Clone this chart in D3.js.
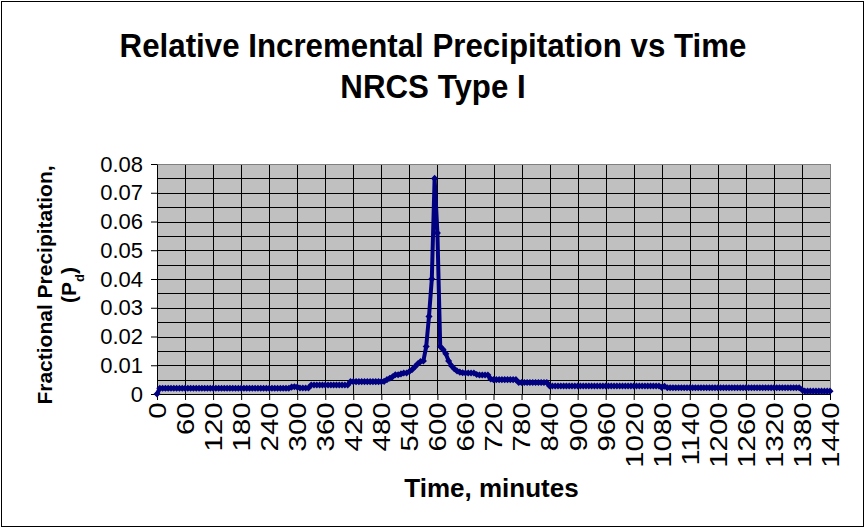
<!DOCTYPE html>
<html>
<head>
<meta charset="utf-8">
<script src="https://cdn.jsdelivr.net/npm/d3@7"></script>
<style>
  body { margin: 0; background: #fff; }
  text { font-family: "Liberation Sans", Arial, sans-serif; }
</style>
</head>
<body>
<div id="vis"></div>
<script>
// chart values (6 minute steps, 0..1440)
let timeStep = 6;
let precip = [
  0,
  // 6 .. 282
  0.002, 0.002, 0.002, 0.002, 0.002, 0.002, 0.002, 0.002, 0.002, 0.002,
  0.002, 0.002, 0.002, 0.002, 0.002, 0.002, 0.002, 0.002, 0.002, 0.002,
  0.002, 0.002, 0.002, 0.002, 0.002, 0.002, 0.002, 0.002, 0.002, 0.002,
  0.002, 0.002, 0.002, 0.002, 0.002, 0.002, 0.002, 0.002, 0.002, 0.002,
  0.002, 0.002, 0.002, 0.002, 0.002, 0.002, 0.002,
  // 288 .. 324
  0.0024, 0.0025, 0.0024, 0.0021, 0.0021, 0.0021, 0.0021,
  // 330 .. 408
  0.0031, 0.0031, 0.0031, 0.0031, 0.0031, 0.0031, 0.0031, 0.0031, 0.0031, 0.0031,
  0.0031, 0.0031, 0.0031, 0.0031,
  // 414 .. 486
  0.0043, 0.0043, 0.0043, 0.0043, 0.0043, 0.0043, 0.0043, 0.0043, 0.0043, 0.0043,
  0.0043, 0.0043, 0.0044,
  // 492 .. 570
  0.005, 0.0055, 0.006, 0.0067, 0.0067, 0.007, 0.0073, 0.0073, 0.0078, 0.0085,
  0.0095, 0.0105, 0.0113, 0.0115,
  // 576 .. 606 (peak)
  0.0165, 0.027, 0.040, 0.075, 0.056, 0.0165,
  // 612 .. 708
  0.0155, 0.014, 0.0115, 0.0098, 0.0088, 0.008, 0.0076, 0.0074, 0.0073, 0.0073,
  0.0073, 0.0073, 0.0068, 0.0066, 0.0066, 0.0066, 0.0066,
  // 714 .. 768
  0.0052, 0.005, 0.005, 0.005, 0.005, 0.005, 0.005, 0.005, 0.005, 0.005,
  // 774 .. 834
  0.004, 0.004, 0.004, 0.004, 0.004, 0.004, 0.004, 0.004, 0.004, 0.004, 0.004,
  // 840 .. 1074
  0.0028, 0.0028, 0.0028, 0.0028, 0.0028, 0.0028, 0.0028, 0.0028, 0.0028, 0.0028,
  0.0028, 0.0028, 0.0028, 0.0028, 0.0028, 0.0028, 0.0028, 0.0028, 0.0028, 0.0028,
  0.0028, 0.0028, 0.0028, 0.0028, 0.0028, 0.0028, 0.0028, 0.0028, 0.0028, 0.0028,
  0.0028, 0.0028, 0.0028, 0.0028, 0.0028, 0.0028, 0.0028, 0.0028, 0.0028, 0.0028,
  // 1080 .. 1086
  0.0023, 0.0027,
  // 1092 .. 1374
  0.0022, 0.0022, 0.0022, 0.0022, 0.0022, 0.0022, 0.0022, 0.0022, 0.0022, 0.0022,
  0.0022, 0.0022, 0.0022, 0.0022, 0.0022, 0.0022, 0.0022, 0.0022, 0.0022, 0.0022,
  0.0022, 0.0022, 0.0022, 0.0022, 0.0022, 0.0022, 0.0022, 0.0022, 0.0022, 0.0022,
  0.0022, 0.0022, 0.0022, 0.0022, 0.0022, 0.0022, 0.0022, 0.0022, 0.0022, 0.0022,
  0.0022, 0.0022, 0.0022, 0.0022, 0.0022, 0.0022, 0.0022, 0.0022,
  // 1380 .. 1440
  0.0015, 0.001, 0.001, 0.001, 0.001, 0.001, 0.001, 0.001, 0.001, 0.001, 0.001
];

let xTicks = [0, 60, 120, 180, 240, 300, 360, 420, 480, 540, 600, 660, 720,
  780, 840, 900, 960, 1020, 1080, 1140, 1200, 1260, 1320, 1380, 1440];
let yTicks = [0, 0.01, 0.02, 0.03, 0.04, 0.05, 0.06, 0.07, 0.08];
let yGrid = [0.005, 0.015, 0.025, 0.035, 0.045, 0.055, 0.065, 0.075];

let titleLines = ['Relative Incremental Precipitation vs Time', 'NRCS Type I'];
let yTitle = ['Fractional Precipitation,', '(P', 'd', ')'];
let xTitle = 'Time, minutes';

let data = precip.map(function (v, i) { return [i * timeStep, v]; });

let W = 866, H = 529;
let margin = { top: 164, left: 157, right: 36, bottom: 135 },
  width = W - margin.left - margin.right,
  height = H - margin.top - margin.bottom;

let svg = d3.select('#vis')
  .append('svg')
  .attr('width', W)
  .attr('height', H);

// chart area border
svg.append('rect')
  .attr('x', 1.5).attr('y', 1.5)
  .attr('width', W - 4).attr('height', H - 4)
  .attr('fill', '#fff')
  .attr('stroke', '#000')
  .attr('stroke-width', 1);

// title (slightly condensed like the original)
svg.selectAll('.title')
  .data(titleLines)
  .enter()
  .append('text')
  .attr('class', 'title')
  .attr('transform', function (d, i) {
    return 'translate(433,' + (57 + i * 41) + ') scale(0.92,1)';
  })
  .attr('text-anchor', 'middle')
  .style('font-weight', 'bold')
  .style('font-size', '34px')
  .text(function (d) { return d; });

let xScale = d3.scaleLinear().domain([0, 1440]).range([0, width]),
  yScale = d3.scaleLinear().domain([0, 0.08]).range([height, 0]);

let g = svg.append('g')
  .attr('transform', 'translate(' + margin.left + ',' + margin.top + ')');

// plot background
g.append('rect')
  .attr('width', width)
  .attr('height', height)
  .attr('fill', '#c0c0c0');

// grid
g.append('g')
  .selectAll('line')
  .data(yTicks.concat(yGrid))
  .enter()
  .append('line')
  .attr('x1', 0).attr('x2', width)
  .attr('y1', function (d) { return Math.round(yScale(d)) + 0.5; })
  .attr('y2', function (d) { return Math.round(yScale(d)) + 0.5; })
  .attr('stroke', '#000');

g.append('g')
  .selectAll('line')
  .data(xTicks.slice(1))
  .enter()
  .append('line')
  .attr('y1', 0).attr('y2', height)
  .attr('x1', function (d) { return Math.round(xScale(d)) + 0.5; })
  .attr('x2', function (d) { return Math.round(xScale(d)) + 0.5; })
  .attr('stroke', '#000');

// plot border
g.append('rect')
  .attr('x', 0.5).attr('y', 0.5)
  .attr('width', width).attr('height', height)
  .attr('fill', 'none')
  .attr('stroke', '#808080');

// axes
let xAxis = g.append('g')
  .attr('transform', 'translate(0,' + height + ')')
  .call(d3.axisBottom(xScale).tickValues(xTicks).tickSize(6).tickSizeOuter(0)
    .tickFormat(d3.format('d')));
xAxis.selectAll('text')
  .attr('transform', 'rotate(-90) scale(1.22,1)')
  .attr('text-anchor', 'end')
  .attr('x', -7)
  .attr('y', 0)
  .attr('dy', '0.35em')
  .style('font-size', '24px')
  .attr('fill', '#000');

let yAxis = g.append('g')
  .call(d3.axisLeft(yScale).tickValues(yTicks).tickSize(6).tickSizeOuter(0)
    .tickFormat(function (d) { return d === 0 ? '0' : d3.format('.2f')(d); }));
yAxis.selectAll('text')
  .attr('x', -14)
  .style('font-size', '22px')
  .attr('fill', '#000');

g.selectAll('.domain').attr('stroke', '#000');
g.selectAll('.tick line').attr('stroke', '#000');

// series line
let line = d3.line()
  .x(function (d) { return xScale(d[0]); })
  .y(function (d) { return yScale(d[1]); });

g.append('path')
  .datum(data)
  .attr('d', line)
  .attr('fill', 'none')
  .attr('stroke', '#000080')
  .attr('stroke-width', 4)
  .attr('stroke-linejoin', 'round');

g.append('g')
  .selectAll('rect')
  .data(data)
  .enter()
  .append('rect')
  .attr('x', function (d) { return xScale(d[0]) - 2.5; })
  .attr('y', function (d) { return yScale(d[1]) - 2.5; })
  .attr('width', 5)
  .attr('height', 5)
  .attr('fill', '#000080')
  .attr('transform', function (d) {
    return 'rotate(45,' + xScale(d[0]) + ',' + yScale(d[1]) + ')';
  });

// x title
svg.append('text')
  .attr('x', margin.left + width / 2 - 2)
  .attr('y', 497)
  .attr('text-anchor', 'middle')
  .style('font-weight', 'bold')
  .style('font-size', '26px')
  .text(xTitle);

// y title (two lines, rotated)
let yt = svg.append('text')
  .attr('transform', 'translate(52,' + 285 + ')rotate(-90)')
  .attr('text-anchor', 'middle')
  .style('font-weight', 'bold')
  .style('font-size', '21px');
yt.append('tspan').attr('x', 0).attr('y', 0).text(yTitle[0]);
yt.append('tspan').attr('x', 0).attr('dy', 24).text(yTitle[1]);
yt.append('tspan').attr('baseline-shift', 'sub').style('font-size', '13px').text(yTitle[2]);
yt.append('tspan').text(yTitle[3]);
</script>
</body>
</html>
